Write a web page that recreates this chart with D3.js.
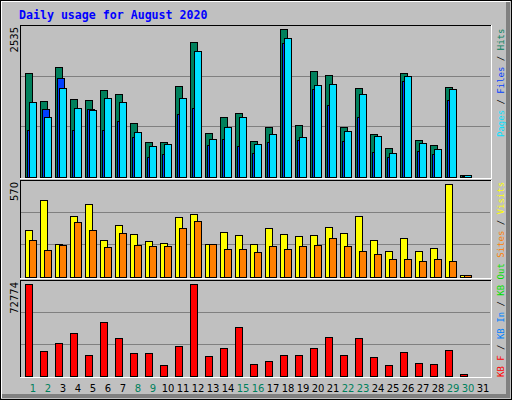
<!DOCTYPE html>
<html>
<head>
<meta charset="utf-8">
<script src="https://cdn.jsdelivr.net/npm/d3@7"></script>
<style>
  body { margin: 0; }
  svg { display: block; shape-rendering: crispEdges; }
</style>
</head>
<body>
<div id="chart"></div>
<script>
// Daily usage for August 2020 (webalizer style)

let days = d3.range(1, 32);
let weekendDays = [1, 2, 8, 9, 15, 16, 22, 23, 29, 30];

let hits  = [1774,1292,1877,1327,1310,1481,1413,914,588,588,1550,2306,742,1017,1086,605,846,2535,880,1808,1739,846,1516,725,485,1774,622,536,1533,34,0];
let files = [794,1155,1688,794,1155,794,949,674,330,381,1069,1172,536,639,519,399,588,2289,622,1499,1224,605,1017,416,330,1636,433,381,1310,17,0];
let pages = [1275,1017,1516,1172,1138,1344,1275,760,519,553,1344,2152,639,846,1017,553,725,2375,674,1567,1585,777,1413,691,399,1722,571,467,1499,26,0];

let visits = [285,471,198,372,446,223,316,260,217,204,366,384,198,273,254,198,297,260,248,254,304,266,372,223,155,235,155,173,570,12,0];
let sites  = [223,161,192,335,285,180,266,192,186,186,297,341,198,167,167,149,186,167,186,192,235,186,155,136,105,105,93,105,93,12,0];

let kbytes = [72774,19430,25800,33760,16240,42520,29780,17840,17840,9080,23410,72774,15450,21820,38540,9870,12260,16240,16240,21820,30580,16240,29780,14650,9080,18630,10670,9870,20220,1900,0];

function makeGraph() {
  let w = 512, h = 400;
  let svg = d3.select('#chart').append('svg').attr('width', w).attr('height', h);

  // background and bevelled frame
  svg.append('rect').attr('width', w).attr('height', h).attr('fill', '#c0c0c0');
  svg.append('rect').attr('x', 0.5).attr('y', 0.5).attr('width', w - 1).attr('height', h - 1)
     .attr('fill', 'none').attr('stroke', 'black');
  svg.append('path').attr('d', 'M1.5,' + (h - 2) + 'V1.5H' + (w - 2)).attr('stroke', 'white').attr('fill', 'none');
  svg.append('path').attr('d', 'M' + (w - 4) + ',2V' + (h - 4) + 'H2')
     .attr('stroke', '#808080').attr('stroke-width', 4).attr('fill', 'none');

  svg.append('text').attr('x', 19).attr('y', 19)
     .attr('font-family', 'DejaVu Sans Mono').attr('font-weight', 'bold').attr('font-size', 11.6)
     .attr('fill', '#0000ff').text('Daily usage for August 2020');

  let x = d3.scaleLinear().domain([1, 31]).range([25, 475]);
  let left = 20, right = 491;

  let panels = [
    { top: 25, base: 176.5, max: 2535, label: '2535' },
    { top: 180, base: 276.5, max: 570, label: '570' },
    { top: 280, base: 376, max: 72774, label: '72774' }
  ];

  panels.forEach(p => {
    let y = d3.scaleLinear().domain([0, p.max]).range([p.base, p.top + 4]);
    p.y = y;
    let g = svg.append('g');
    // grid lines at 1/3 and 2/3 of panel height
    [1, 2].forEach(k => {
      let gy = Math.round(p.base - (p.base - p.top) * k / 3) + 0.5;
      g.append('line').attr('x1', left + 1).attr('x2', right - 1).attr('y1', gy).attr('y2', gy)
       .attr('stroke', '#808080');
    });
    g.append('path').attr('d', `M${left + 0.5},${p.base + 1}V${p.top + 0.5}H${right}`)
     .attr('stroke', 'black').attr('fill', 'none');
    g.append('path').attr('d', `M${left},${p.base + 1.5}H${right + 0.5}V${p.top}`)
     .attr('stroke', 'white').attr('fill', 'none');
    svg.append('text')
       .attr('transform', `translate(18,${p.top + 2}) rotate(-90)`)
       .attr('text-anchor', 'end')
       .attr('font-family', 'DejaVu Sans').attr('font-size', 10)
       .text(p.label);
  });

  function bars(panel, data, off, bw, color) {
    svg.append('g').selectAll('rect').data(data).enter().append('rect')
       .attr('x', (d, i) => Math.round(x(days[i]) + off) + 0.5)
       .attr('y', d => Math.round(panel.y(d)) + 0.5)
       .attr('width', bw)
       .attr('height', d => Math.max(0, Math.round(panel.base) - Math.round(panel.y(d))))
       .attr('fill', color).attr('stroke', 'black');
  }

  bars(panels[0], hits, 0, 7, '#00805c');
  bars(panels[0], files, 2, 7, '#0040ff');
  bars(panels[0], pages, 4, 7, '#00e0ff');
  bars(panels[1], visits, 0, 7, '#ffff00');
  bars(panels[1], sites, 4, 7, '#ff8000');
  bars(panels[2], kbytes, 0, 7, '#ff0000');

  // day labels
  svg.append('g').selectAll('text').data(days).enter().append('text')
     .attr('x', d => x(d) + 8).attr('y', 392)
     .attr('text-anchor', 'middle')
     .attr('font-family', 'DejaVu Sans').attr('font-size', 10)
     .attr('fill', d => weekendDays.includes(d) ? '#00805c' : 'black')
     .text(d => d);

  // right side legends
  function legend(yStart, parts) {
    let t = svg.append('text')
       .attr('transform', `translate(504,${yStart}) rotate(-90)`)
       .attr('font-family', 'DejaVu Sans Mono').attr('font-size', 9);
    parts.forEach(pt => t.append('tspan').attr('fill', pt[1]).text(pt[0]));
  }
  legend(137, [['Pages', '#00e0ff'], [' / ', 'black'], ['Files', '#0040ff'], [' / ', 'black'], ['Hits', '#00805c']]);
  legend(377, [['KB F', '#ff0000'], [' / ', 'black'], ['KB In', '#0080ff'], [' / ', 'black'],
               ['KB Out', '#00e000'], [' ', 'black'], ['Sites', '#ff8000'], [' / ', 'black'], ['Visits', '#ffff00']]);
}

window.onload = function() {
  makeGraph();
};
</script>
</body>
</html>
